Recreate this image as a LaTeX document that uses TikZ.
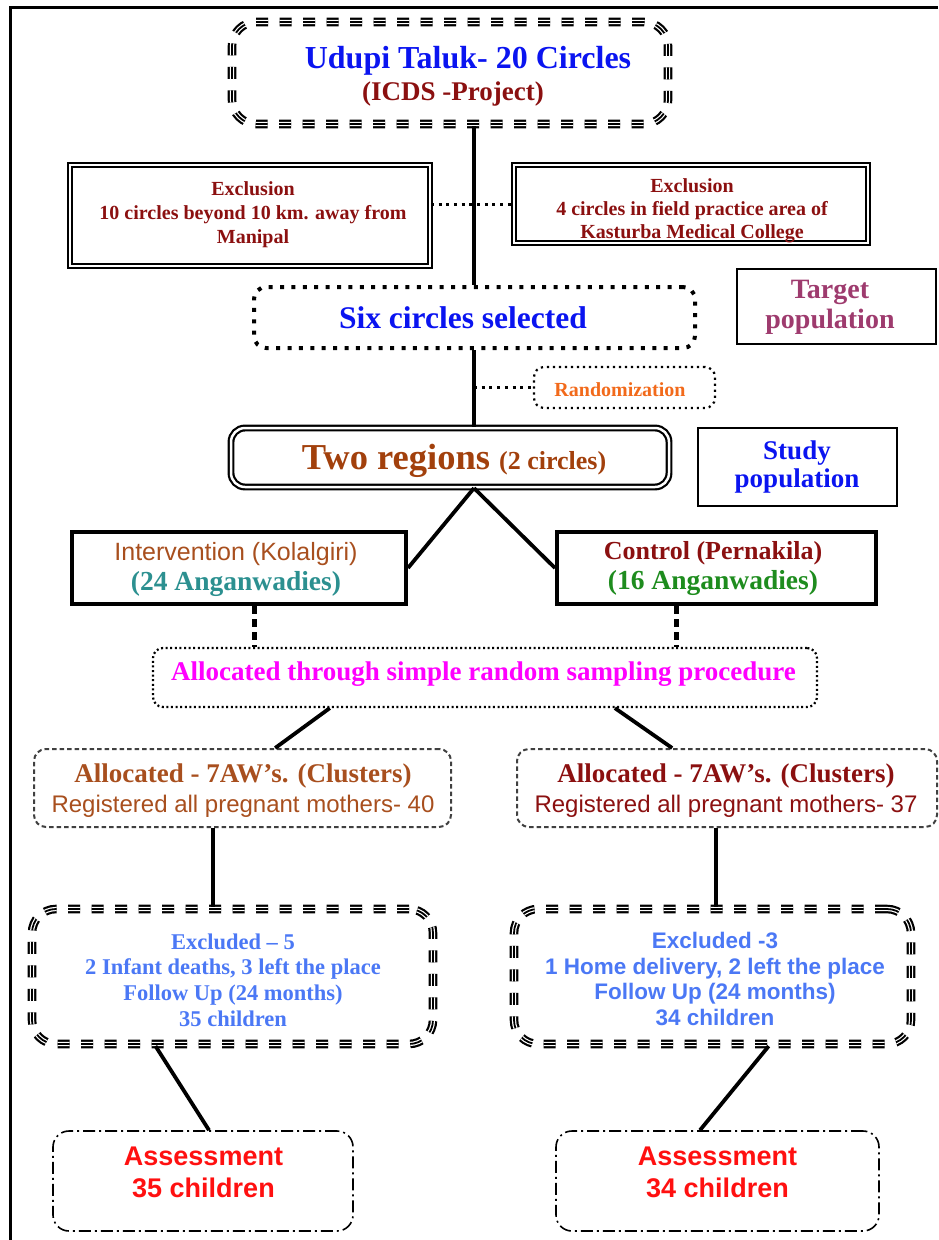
\documentclass[tikz,border=0pt]{standalone}
\usepackage{fontspec}
\setmainfont{Liberation Serif}
\newfontfamily\sansf{Liberation Sans}
\usetikzlibrary{calc}
\definecolor{cblue}{HTML}{0A14F0}
\definecolor{dred}{HTML}{8B1010}
\definecolor{mauve}{HTML}{9E3B6E}
\definecolor{orng}{HTML}{F26A1B}
\definecolor{brn}{HTML}{A2400C}
\definecolor{sienna}{HTML}{A84F1E}
\definecolor{teal2}{HTML}{2C9090}
\definecolor{grn}{HTML}{1E8C1E}
\definecolor{magn}{HTML}{FF00FF}
\definecolor{lblue}{HTML}{4B78F5}
\definecolor{red2}{HTML}{FF1010}
\newcommand{\fs}[2]{\fontsize{#1}{#2}\selectfont}
\tikzset{
  base/.style={inner sep=0pt},
  txt/.style={inner sep=0pt, align=center},
  tri/.style={base, draw=white, line width=4.2pt, dash pattern=on 12pt off 11.5pt, rounded corners=24pt,
     preaction={draw=black, line width=8.6pt}, postaction={draw=black, line width=1.8pt}},
  dbl/.style={base, draw=black, line width=1.7pt, double=white, double distance=2pt},
  plain/.style={base, draw=black, line width=1.6pt},
  thickbox/.style={base, draw=black, line width=4pt},
  bigdot/.style={base, draw=black, line width=4pt, dash pattern=on 4pt off 7.4pt, rounded corners=12pt},
  smalldot/.style={base, draw=black, line width=2.2pt, dash pattern=on 2.2pt off 3.8pt, rounded corners=10pt},
  finedot/.style={base, draw=black, line width=2.2pt, dash pattern=on 2pt off 2.6pt, rounded corners=10pt},
  dashbox/.style={base, draw=black!75, line width=2pt, dash pattern=on 4.5pt off 3pt, rounded corners=12pt},
  dashdotbox/.style={base, draw=black, line width=1.6pt, dash pattern=on 12pt off 4pt on 2pt off 4pt, rounded corners=16pt},
  conn/.style={draw=black, line width=3.8pt},
  dotconn/.style={draw=black, line width=3pt, dash pattern=on 3pt off 4.7pt},
  thickdot/.style={draw=black, line width=5pt, dash pattern=on 8pt off 5pt},
}
\begin{document}
\begin{tikzpicture}[x=1pt,y=-1pt]
\useasboundingbox (0,0) rectangle (938,1240);
\draw[line width=3pt] (10,1240) -- (10,7) -- (938,7);

% ---------- boxes ----------
\node[tri, minimum width=436pt, minimum height=102pt] (top) at (450,73) {};
\node[dbl, minimum width=360pt, minimum height=101pt] (exl) at (250,215.5) {};
\node[dbl, minimum width=354pt, minimum height=78pt] (exr) at (691,204) {};
\node[plain, minimum width=199pt, minimum height=75pt] (target) at (836.5,306.5) {};
\node[bigdot, minimum width=441pt, minimum height=61pt] (six) at (474.5,317.5) {};
\node[smalldot, minimum width=181pt, minimum height=41pt] (rand) at (624.5,387.5) {};
\node[dbl, line width=2.2pt, double distance=2.5pt, rounded corners=14pt, minimum width=438pt, minimum height=59pt] (two) at (450,457.5) {};
\node[plain, minimum width=199pt, minimum height=78pt] (study) at (797.5,467) {};
\node[thickbox, minimum width=334pt, minimum height=72pt] (interv) at (239,568) {};
\node[thickbox, minimum width=319pt, minimum height=72pt] (ctrl) at (716.5,568) {};
\node[finedot, minimum width=664pt, minimum height=59pt] (alloc) at (485,677.5) {};
\node[dashbox, minimum width=417pt, minimum height=78pt] (al) at (242.5,788) {};
\node[dashbox, minimum width=420pt, minimum height=78pt] (ar) at (727,788) {};
\node[tri, minimum width=401pt, minimum height=135pt] (exL) at (232.5,976.5) {};
\node[tri, minimum width=397pt, minimum height=135pt] (exR) at (712.5,976.5) {};
\node[dashdotbox, minimum width=300pt, minimum height=100pt] (asL) at (203,1181) {};
\node[dashdotbox, minimum width=323pt, minimum height=100pt] (asR) at (717.5,1181) {};

% ---------- texts ----------
\node[txt, font=\bfseries\fs{32}{34}, text=cblue] (top1) at (468,61) {Udupi Taluk- 20 Circles};
\node[txt, font=\bfseries\fs{27}{30}, text=dred] (top2) at (453,94) {(ICDS -Project)};
\node[txt, font=\bfseries\fs{20}{24}, text=dred] (exlt) at (253,215) {Exclusion\\10 circles beyond 10 km. away from\\Manipal};
\node[txt, font=\bfseries\fs{20}{23}, text=dred] (exrt) at (692,211) {Exclusion\\4 circles in field practice area of\\Kasturba Medical College};
\node[txt, font=\bfseries\fs{28}{30}, text=mauve] (targett) at (830,307) {Target\\population};
\node[txt, font=\bfseries\fs{31.5}{34}, text=cblue] (sixt) at (463,318) {Six circles selected};
\node[txt, font=\bfseries\fs{20}{22}, text=orng] (randt) at (620,390) {Randomization};
\node[txt, font=\bfseries\fs{36.5}{40}, text=brn] (twot) at (454,461) {Two regions {\fs{26}{30}(2 circles)}};
\node[txt, font=\bfseries\fs{27}{28}, text=cblue] (studyt) at (797,467) {Study\\population};
\node[txt, font=\fs{25}{30}, text=sienna] (intervt) at (236,569)
  {{\sansf Intervention (Kolalgiri)}\\ \textcolor{teal2}{\bfseries\fs{27.5}{30}(24 Anganwadies)}};
\node[txt, font=\bfseries\fs{26}{30}, text=dred] (ctrlt) at (713,569)
  {Control (Pernakila)\\ \textcolor{grn}{\fs{27.5}{30}(16 Anganwadies)}};
\node[txt, font=\bfseries\fs{27}{30}, text=magn] (alloct) at (483.5,674) {Allocated through simple random sampling procedure};
\node[txt, font=\fs{27}{30}, text=sienna] (alt) at (243,791)
  {{\bfseries Allocated - 7AW's. (Clusters)}\\ {\sansf\fs{24}{30}Registered all pregnant mothers- 40}};
\node[txt, font=\fs{27}{30}, text=dred] (art) at (726,791)
  {{\bfseries Allocated - 7AW's. (Clusters)}\\ {\sansf\fs{24}{30}Registered all pregnant mothers- 37}};
\node[txt, font=\bfseries\fs{22.5}{25.8}, text=lblue] (exLt) at (233,980)
  {Excluded -- 5\\2 Infant deaths, 3 left the place\\Follow Up (24 months)\\35 children};
\node[txt, font=\bfseries\sansf\fs{22.5}{25.8}, text=lblue] (exRt) at (715,979)
  {Excluded -3\\1 Home delivery, 2 left the place\\Follow Up (24 months)\\34 children};
\node[txt, font=\bfseries\sansf\fs{27}{32}, text=red2] (asLt) at (203.5,1172) {Assessment\\35 children};
\node[txt, font=\bfseries\sansf\fs{27}{32}, text=red2] (asRt) at (717.5,1172) {Assessment\\34 children};

% ---------- connectors ----------
\coordinate (sx) at (474,0);
\coordinate (cl) at (254,0);
\coordinate (cr) at (676,0);
\coordinate (dl) at (213,0);
\coordinate (dr) at (716,0);
\draw[conn] (top.south -| sx) -- (six.north -| sx);
\draw[dotconn] (exl.east |- exr.west) -- (exr.west);
\draw[conn] (six.south -| sx) -- (two.north -| sx);
\draw[dotconn] (rand.west -| sx) -- (rand.west);
\draw[conn] (two.south -| sx) -- (interv.east);
\draw[conn] (two.south -| sx) -- (ctrl.west);
\draw[thickdot] (interv.south -| cl) -- (alloc.north -| cl);
\draw[thickdot] (ctrl.south -| cr) -- (alloc.north -| cr);
\draw[conn] ($(alloc.south west)!0.267!(alloc.south east)$) -- ($(al.north west)!0.578!(al.north east)$);
\draw[conn] ($(alloc.south west)!0.695!(alloc.south east)$) -- ($(ar.north west)!0.37!(ar.north east)$);
\draw[conn] (al.south -| dl) -- (exL.north -| dl);
\draw[conn] (ar.south -| dr) -- (exR.north -| dr);
\draw[conn] ($(exL.south west)!0.31!(exL.south east)$) -- ($(asL.north west)!0.52!(asL.north east)$);
\draw[conn] ($(exR.south west)!0.64!(exR.south east)$) -- ($(asR.north west)!0.446!(asR.north east)$);
\end{tikzpicture}
\end{document}
